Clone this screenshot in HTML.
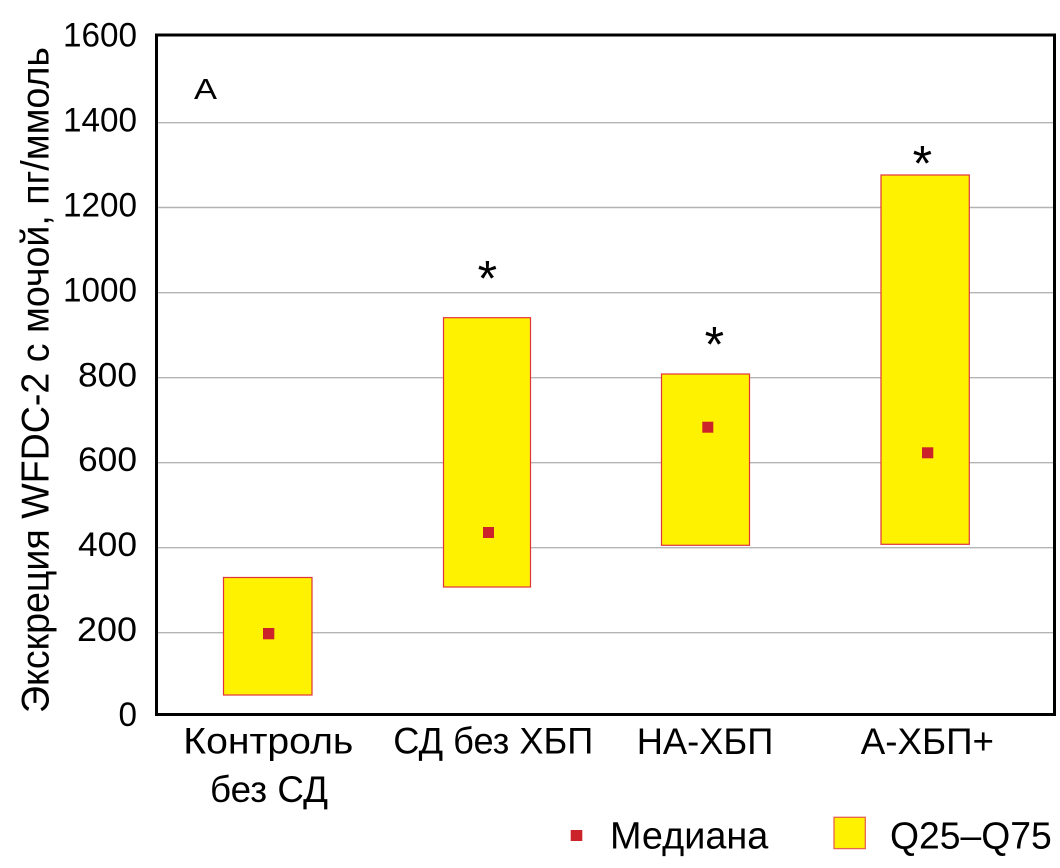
<!DOCTYPE html>
<html>
<head>
<meta charset="utf-8">
<style>
  html, body { margin: 0; padding: 0; background: #ffffff; }
  svg { display: block; }
  text { font-family: "Liberation Sans", "DejaVu Sans", sans-serif; fill: #000; }
</style>
</head>
<body>
<svg width="1060" height="868" viewBox="0 0 1060 868" xmlns="http://www.w3.org/2000/svg">
  <!-- gridlines -->
  <g stroke="#b4b4b4" stroke-width="1.4">
    <line x1="157" y1="122.7" x2="1055" y2="122.7"/>
    <line x1="157" y1="207.5" x2="1055" y2="207.5"/>
    <line x1="157" y1="292.7" x2="1055" y2="292.7"/>
    <line x1="157" y1="377.7" x2="1055" y2="377.7"/>
    <line x1="157" y1="462.7" x2="1055" y2="462.7"/>
    <line x1="157" y1="547.7" x2="1055" y2="547.7"/>
    <line x1="157" y1="632.7" x2="1055" y2="632.7"/>
  </g>

  <!-- boxes -->
  <g fill="#fff200" stroke="#e0343a" stroke-width="1.2">
    <rect x="223.5" y="577.5" width="88.5" height="117.5"/>
    <rect x="443.5" y="317.7" width="87" height="269.3"/>
    <rect x="661.5" y="374" width="88" height="171.3"/>
    <rect x="881" y="175" width="88.3" height="369.3"/>
  </g>

  <!-- medians -->
  <g fill="#cc2229">
    <rect x="263" y="628" width="11.3" height="11.3"/>
    <rect x="483" y="527" width="11" height="11"/>
    <rect x="702.3" y="421.7" width="11" height="11"/>
    <rect x="922" y="447.3" width="11.3" height="11"/>
  </g>

  <!-- frame -->
  <rect x="156.5" y="35" width="898" height="679.5" fill="none" stroke="#000" stroke-width="3"/>

  <!-- asterisks -->
  <g font-size="50" text-anchor="middle">
    <text x="487.3" y="295.3">*</text>
    <text x="714.3" y="361.3">*</text>
    <text x="922.3" y="180.3">*</text>
  </g>

  <!-- panel label -->
  <text x="194" y="99" font-size="29" textLength="23" lengthAdjust="spacingAndGlyphs">A</text>

  <!-- y tick labels -->
  <g font-size="34" text-anchor="end">
    <text x="137" y="46.7" textLength="74" lengthAdjust="spacingAndGlyphs">1600</text>
    <text x="137" y="131.6" textLength="74" lengthAdjust="spacingAndGlyphs">1400</text>
    <text x="137" y="216.5" textLength="74" lengthAdjust="spacingAndGlyphs">1200</text>
    <text x="137" y="301.4" textLength="74" lengthAdjust="spacingAndGlyphs">1000</text>
    <text x="137" y="386.3" textLength="59" lengthAdjust="spacingAndGlyphs">800</text>
    <text x="137" y="471.2" textLength="59" lengthAdjust="spacingAndGlyphs">600</text>
    <text x="137" y="556.1" textLength="59" lengthAdjust="spacingAndGlyphs">400</text>
    <text x="137" y="641" textLength="60" lengthAdjust="spacingAndGlyphs">200</text>
    <text x="137" y="725.9" textLength="18.5" lengthAdjust="spacingAndGlyphs">0</text>
  </g>

  <!-- y axis title -->
  <text transform="translate(48.3,713) rotate(-90)" x="0" y="0" font-size="39" textLength="666" lengthAdjust="spacingAndGlyphs">Экскреция WFDC-2 с мочой, пг/ммоль</text>

  <!-- x labels -->
  <g font-size="37">
    <text x="183.3" y="753.3" textLength="170" lengthAdjust="spacingAndGlyphs">Контроль</text>
    <text x="210" y="802" textLength="118" lengthAdjust="spacingAndGlyphs">без СД</text>
    <text x="393.3" y="753.3" textLength="200" lengthAdjust="spacingAndGlyphs">СД без ХБП</text>
    <text x="636.7" y="754" textLength="136.6" lengthAdjust="spacingAndGlyphs">НА-ХБП</text>
    <text x="860.7" y="754" textLength="133.3" lengthAdjust="spacingAndGlyphs">А-ХБП+</text>
  </g>

  <!-- legend -->
  <rect x="570.7" y="830" width="11.6" height="11" fill="#cc2229"/>
  <text x="610" y="848.3" font-size="38" textLength="158.3" lengthAdjust="spacingAndGlyphs">Медиана</text>
  <rect x="834" y="817.3" width="31.3" height="31.3" fill="#fff200" stroke="#e8644a" stroke-width="1.3"/>
  <text x="890" y="848.3" font-size="38" textLength="161.7" lengthAdjust="spacingAndGlyphs">Q25–Q75</text>
</svg>
</body>
</html>
